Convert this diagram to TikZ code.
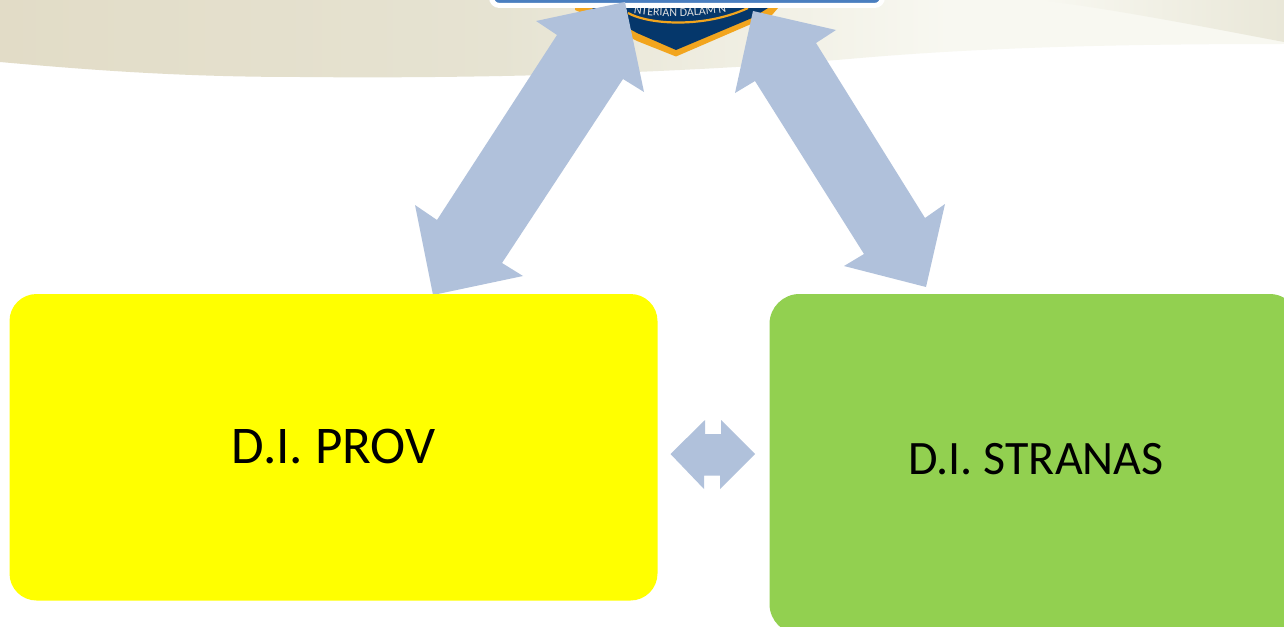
\documentclass[tikz,border=0pt]{standalone}
\usepackage{fontspec}
\setmainfont{Carlito}
\usetikzlibrary{decorations.text}
\definecolor{arrowblue}{HTML}{B0C1DB}
\definecolor{boxgreen}{HTML}{92D050}
\definecolor{boxyellow}{RGB}{255,255,0}
\definecolor{navy}{HTML}{05376B}
\definecolor{gold}{HTML}{F2A51E}
\definecolor{barblue}{HTML}{4A7EBF}
\definecolor{bgleft}{HTML}{E2DCC7}
\definecolor{bgmid}{HTML}{E6E3D2}
\definecolor{bgright}{HTML}{F8F8F1}
\definecolor{bgband}{HTML}{E9E7D8}
\tikzset{
  blockarrow/.style={fill=arrowblue,draw=none},
  label box/.style={draw=none,rounded corners=27pt,minimum width=648pt,minimum height=306.5pt,anchor=north west,inner sep=0pt,outer sep=0pt,text=black}
}
\begin{document}
\begin{tikzpicture}[x=1pt,y=-1pt]
\useasboundingbox (0,0) rectangle (1284,626);
\clip (0,0) rectangle (1284,626);
\fill[white] (0,0) rectangle (1284,626);
% background swoosh
\begin{scope}
\clip (0,62) .. controls (90,70) and (180,77) .. (300,77) .. controls (500,79) and (700,72) .. (860,58) .. controls (1000,46) and (1150,44) .. (1284,44) -- (1284,0) -- (0,0) -- cycle;
\shade[left color=bgleft,right color=bgmid] (0,0) rectangle (500,80);
\shade[left color=bgmid,right color=bgright] (499.5,0) rectangle (950,80);
\fill[bgright] (949.5,0) rectangle (1284,80);
\shade[left color=bgright,right color=bgband] (1040,0) .. controls (1120,10) and (1220,30) .. (1284,42) -- (1284,0) -- cycle;
\end{scope}
% emblem
\fill[gold] (575,0) -- (575,10) -- (582,13) -- (637,41) -- (676,56.5) -- (772,15) -- (778,8) -- (778,0) -- cycle;
\fill[navy] (592,0) -- (592,8) -- (637,33) -- (676,50) -- (752,18) -- (768,8) -- (768,0) -- cycle;
\draw[gold,line width=2.2pt] (628,13) .. controls (650,25) and (705,28) .. (748,8);
\path[postaction={decorate,decoration={text along path,text align=center,text={|\fontsize{12}{12}\selectfont\color{white!88!black}|NTERIAN DALAM N}}}] (622,11) .. controls (650,18) and (705,19) .. (738,9);
% top box
\node[draw=white,fill=barblue,line width=5pt,rounded corners=8pt,minimum width=391pt,minimum height=24pt,anchor=south,inner sep=0pt] (top) at (687,8) {};
% arrows
\fill[blockarrow] (625,2) -- (536,21) -- (557,35) -- (437,220) -- (415,205) -- (433,295) -- (523,276) -- (502,263) -- (623,79) -- (644,92) -- cycle;
\fill[blockarrow] (753,11) -- (836,30) -- (816,43) -- (925,218) -- (945,204) -- (926,287) -- (844,266) -- (864,254) -- (755,81) -- (735,93) -- cycle;
\fill[blockarrow] (670.5,454) -- (705,420) -- (705,434) -- (721,434) -- (721,420) -- (755,454) -- (720,489) -- (720,475.5) -- (704,475.5) -- (704,489) -- cycle;
% boxes
\node[label box,fill=boxyellow] (prov) at (9.5,294) {};
\node[font=\fontsize{53}{53}\selectfont] (provt) at (333.5,447) {D.I. PROV};
\node[label box,fill=boxgreen,minimum width=530pt,minimum height=340pt,rounded corners=30pt] (stranas) at (769.5,294) {};
\node[font=\fontsize{48}{48}\selectfont] (strt) at (1036,459) {D.I. STRANAS};
\end{tikzpicture}
\end{document}
